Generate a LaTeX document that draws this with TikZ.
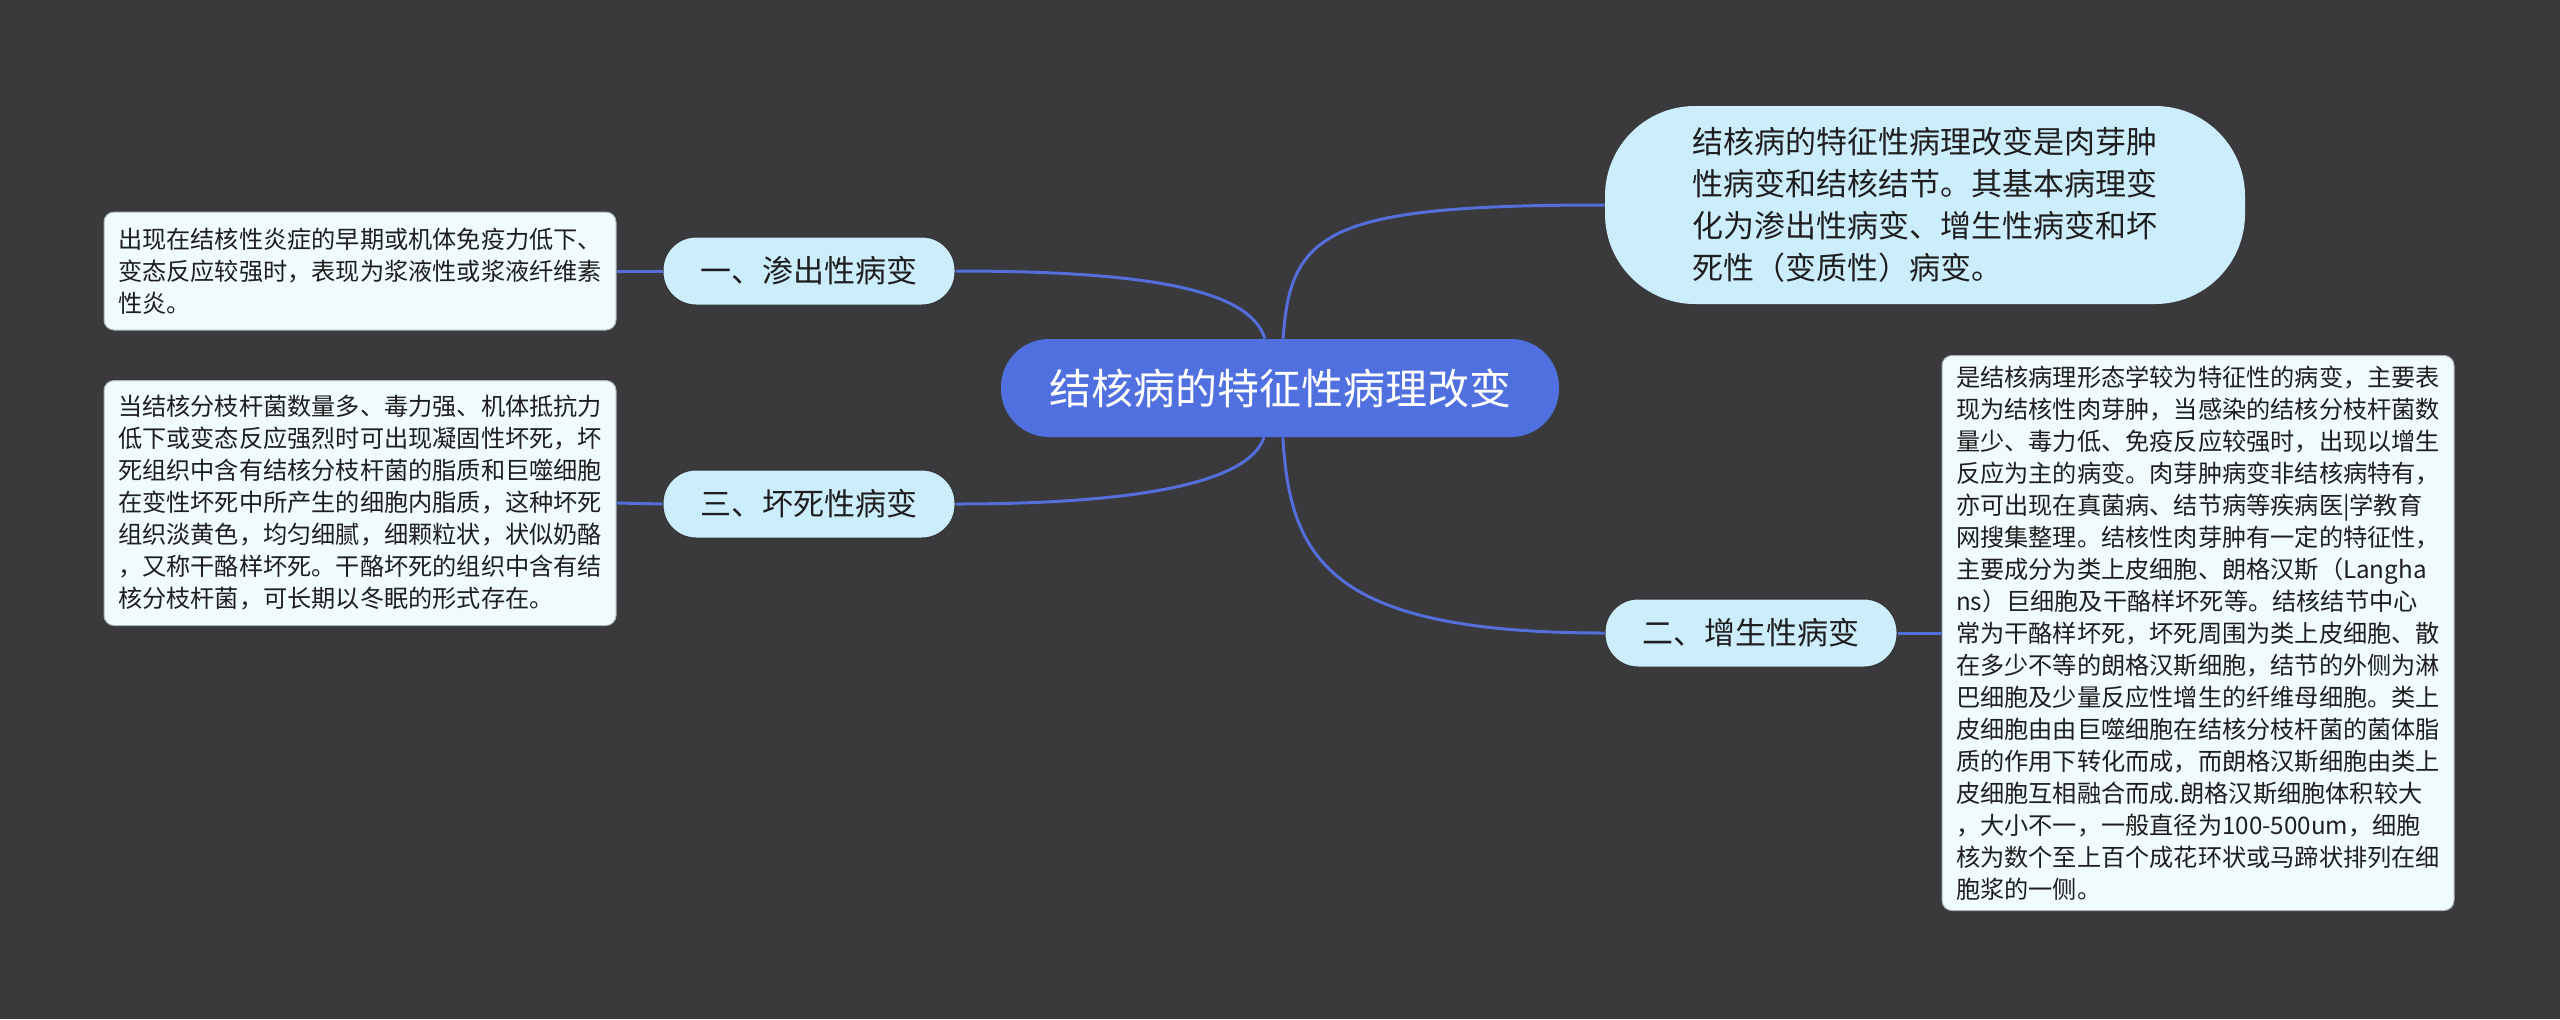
\documentclass[tikz,border=0pt]{standalone}
\usepackage{fontspec}
\setmainfont{Noto Sans CJK SC}
\definecolor{canvas}{RGB}{58,57,60}
\definecolor{hubblue}{RGB}{80,112,224}
\definecolor{linkblue}{RGB}{84,110,220}
\definecolor{topicfill}{RGB}{204,238,252}
\definecolor{notefill}{RGB}{240,251,253}
\definecolor{noteline}{RGB}{170,178,182}
\definecolor{inkdark}{RGB}{30,30,30}
\tikzset{
	hub/.style = {fill = hubblue, text = white, rounded corners = 24pt, inner sep = 0pt,
		minimum width = 279pt, minimum height = 49pt, font = \fontsize{21}{25}\selectfont},
	topic/.style = {fill = topicfill, draw = black!80, line width = 0.5pt, text = inkdark,
		rounded corners = 16.5pt, inner sep = 0pt, minimum width = 146pt, minimum height = 34pt,
		font = \fontsize{15.5}{21}\selectfont},
	summary/.style = {fill = topicfill, text = inkdark, rounded corners = 45pt, inner sep = 0pt,
		minimum width = 320pt, minimum height = 99pt, align = left,
		font = \fontsize{15.5}{21}\selectfont},
	note/.style = {fill = notefill, draw = noteline, line width = 0.5pt, text = inkdark,
		rounded corners = 5pt, inner sep = 0pt, minimum width = 256pt, align = left,
		font = \fontsize{12.1}{16}\selectfont},
	link/.style = {draw = linkblue, line width = 1.5pt}
}
\begin{document}
\begin{tikzpicture}[x = 0.5pt, y = -0.5pt]
		\fill [canvas] (0,0) rectangle (2560,1019);
		\node [hub] (hub) at (1280,388) {结核病的特征性病理改变};
		\node [summary] (gist) at (1925,205) {结核病的特征性病理改变是肉芽肿\\性病变和结核结节。其基本病理变\\化为渗出性病变、增生性病变和坏\\死性（变质性）病变。};
		\node [topic] (exud) at (809,271) {一、渗出性病变};
		\node [topic] (necr) at (809,504) {三、坏死性病变};
		\node [topic] (prol) at (1751,633) {二、增生性病变};
		\node [note, minimum height = 59pt] (exudnote) at (360,271) {出现在结核性炎症的早期或机体免疫力低下、\\变态反应较强时，表现为浆液性或浆液纤维素\\性炎。};
		\node [note, minimum height = 122.5pt] (necrnote) at (360,503) {当结核分枝杆菌数量多、毒力强、机体抵抗力\\低下或变态反应强烈时可出现凝固性坏死，坏\\死组织中含有结核分枝杆菌的脂质和巨噬细胞\\在变性坏死中所产生的细胞内脂质，这种坏死\\组织淡黄色，均匀细腻，细颗粒状，状似奶酪\\，又称干酪样坏死。干酪坏死的组织中含有结\\核分枝杆菌，可长期以冬眠的形式存在。};
		\node [note, minimum height = 277.5pt] (prolnote) at (2198,633) {是结核病理形态学较为特征性的病变，主要表\\现为结核性肉芽肿，当感染的结核分枝杆菌数\\量少、毒力低、免疫反应较强时，出现以增生\\反应为主的病变。肉芽肿病变非结核病特有，\\亦可出现在真菌病、结节病等疾病医|学教育\\网搜集整理。结核性肉芽肿有一定的特征性，\\主要成分为类上皮细胞、朗格汉斯（Langha\\ns）巨细胞及干酪样坏死等。结核结节中心\\常为干酪样坏死，坏死周围为类上皮细胞、散\\在多少不等的朗格汉斯细胞，结节的外侧为淋\\巴细胞及少量反应性增生的纤维母细胞。类上\\皮细胞由由巨噬细胞在结核分枝杆菌的菌体脂\\质的作用下转化而成，而朗格汉斯细胞由类上\\皮细胞互相融合而成.朗格汉斯细胞体积较大\\，大小不一，一般直径为100-500um，细胞\\核为数个至上百个成花环状或马蹄状排列在细\\胞浆的一侧。};
		\draw [link] (hub) .. controls (1290,230) and (1330,205) .. (gist.west);
		\draw [link] (hub) .. controls (1290,560) and (1330,633) .. (prol.west);
		\draw [link] (hub) .. controls (1250,290) and (1150,271) .. (exud.east);
		\draw [link] (hub) .. controls (1250,480) and (1150,504) .. (necr.east);
		\draw [link] (exud.west) -- (exudnote.east);
		\draw [link] (necr.west) -- (necrnote.east);
		\draw [link] (prol.east) -- (prolnote.west);
	\end{tikzpicture}
\end{document}
